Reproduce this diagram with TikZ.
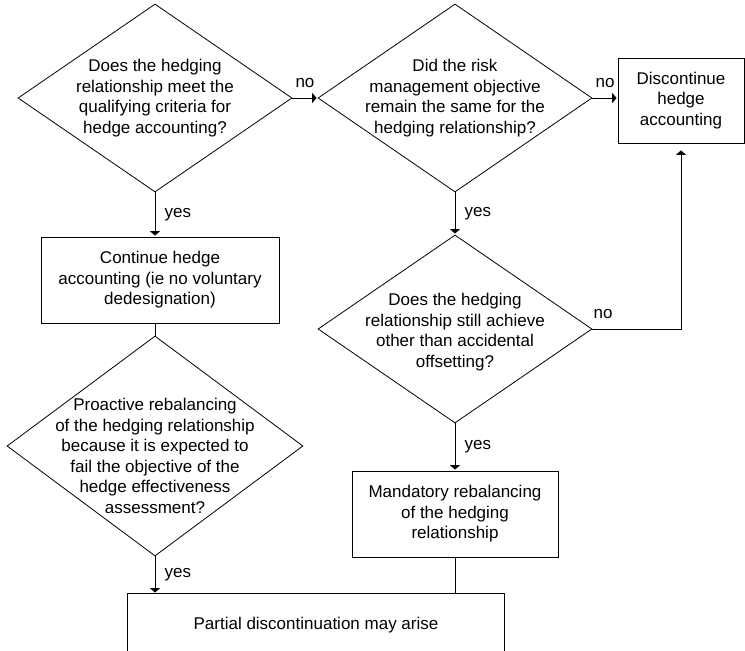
\documentclass[tikz,border=0pt]{standalone}
\usepackage{fontspec}
\setmainfont{Liberation Sans}
\usetikzlibrary{shapes.geometric,arrows.meta}
\begin{document}
\begin{tikzpicture}[x=1pt,y=-1pt,line width=0.8pt,
  font=\fontsize{17}{20.5}\selectfont,
  decision/.style={diamond,draw,inner sep=0pt,minimum width=274pt,minimum height=188pt},
  qtext/.style={align=center,inner sep=0pt},
  block/.style={draw,align=center,inner sep=0pt,minimum height=86pt},
  flow/.style={-{Triangle[width=10pt,length=4.5pt]},shorten >=1pt}]
\useasboundingbox (0,0) rectangle (745,651);
\node[decision,label={[qtext]center:Does the hedging\\relationship meet the\\qualifying criteria for\\hedge accounting?}] (d1) at (155,98) {};
\node[decision,label={[qtext]center:Did the risk\\management objective\\remain the same for the\\hedging relationship?}] (d2) at (455,98) {};
\node[block,minimum width=126pt,minimum height=85pt] (disc) at (681,100.5) {Discontinue\\hedge\\accounting};
\node[block,minimum width=238pt] (cont) at (160,280) {Continue hedge\\accounting (ie no voluntary\\dedesignation)};
\node[decision,minimum width=296pt,minimum height=220pt,label={[qtext,yshift=-10pt]center:Proactive rebalancing\\of the hedging relationship\\because it is expected to\\fail the objective of the\\hedge effectiveness\\assessment?}] (d3) at (155,446) {};
\node[decision,label={[qtext,yshift=-3pt]center:Does the hedging\\relationship still achieve\\other than accidental\\offsetting?}] (d4) at (455,329) {};
\node[block,minimum width=206pt] (mand) at (455,514) {Mandatory rebalancing\\of the hedging\\relationship};
\node[minimum width=376pt,minimum height=62pt,inner sep=0pt] (part) at (316,625) {Partial discontinuation may arise};
\draw (part.south west) -- (part.north west) -- (part.north east) -- (part.south east);
\draw[flow] (d1.east) -- node[above=7pt] {no} (d2.west);
\draw[flow] (d2.east) -- node[above=7pt] {no} (d2.east -| disc.west);
\draw[flow] (d1.south) -- node[right=6pt] {yes} (d1.south |- cont.north);
\draw (cont.south -| d3.north) -- (d3.north);
\draw[flow] (d3.south) -- node[right=6pt] {yes} (d3.south |- part.north);
\draw[flow] (d2.south) -- node[right=6pt] {yes} (d4.north);
\draw[flow] (d4.south) -- node[right=6pt] {yes} (mand.north);
\draw (mand.south) -- (mand.south |- part.north);
\draw[flow,shorten >=7pt] (d4.east) -| node[pos=0.06,above=7pt] {no} (disc.south);
\end{tikzpicture}
\end{document}
